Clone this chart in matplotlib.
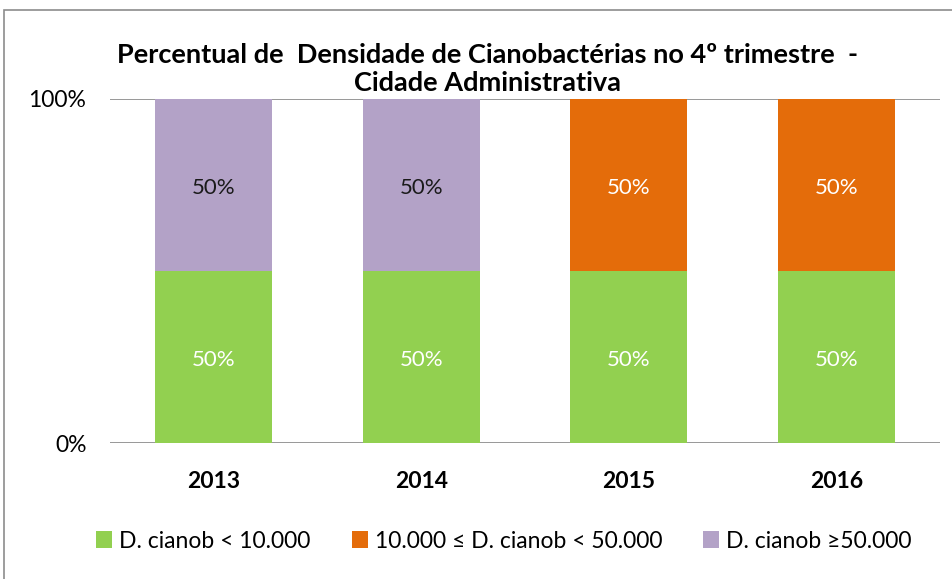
import matplotlib.pyplot as plt
from matplotlib.patches import Rectangle
from matplotlib.ticker import PercentFormatter

plt.rcParams['font.family'] = ['Lato', 'DejaVu Sans']

years = ['2013', '2014', '2015', '2016']
low = [0.5, 0.5, 0.5, 0.5]          # D. cianob < 10.000
mid = [0.0, 0.0, 0.5, 0.5]          # 10.000 <= D. cianob < 50.000
high = [0.5, 0.5, 0.0, 0.0]         # D. cianob >= 50.000
labels = ['D. cianob < 10.000', '10.000 \u2264 D. cianob < 50.000', 'D. cianob \u226550.000']
colors = ['#92D050', '#E46C0A', '#B3A2C7']
text_colors = ['white', 'white', '#1a1a1a']

fig = plt.figure(figsize=(9.53, 5.79), dpi=100)
fig.patches.append(Rectangle((4 / 953, -0.1), 1.1, 1 - 10 / 579 + 0.1,
                             transform=fig.transFigure, fill=False,
                             edgecolor='#8c8c8c', linewidth=1.2))
ax = fig.add_axes([110 / 953, 1 - 443 / 579, 830 / 953, 344 / 579])

x = range(len(years))
bottom = [0, 0, 0, 0]
for vals, col, lab, tc in zip([low, mid, high], colors, labels, text_colors):
    bars = ax.bar(x, vals, bottom=bottom, width=0.565, color=col, label=lab)
    for i, v in enumerate(vals):
        if v > 0:
            ax.text(i, bottom[i] + v / 2 - 0.01, f'{v:.0%}', ha='center', va='center',
                    color=tc, fontsize=16)
    bottom = [b + v for b, v in zip(bottom, vals)]

ax.set_xlim(-0.5, 3.5)
ax.set_ylim(0, 1)
ax.set_yticks([0, 1])
ax.yaxis.set_major_formatter(PercentFormatter(1.0, decimals=0))
ax.yaxis.grid(True, color='#868686', linewidth=1.2)
ax.set_axisbelow(True)
for s in ax.spines.values():
    s.set_visible(False)
ax.tick_params(axis='both', length=0, labelsize=16.5)
ax.tick_params(axis='y', pad=17)
ax.tick_params(axis='x', pad=20)
ax.set_xticks(list(x))
ax.set_xticklabels(years, fontweight='bold')

fig.text(488 / 953, 1 - 69 / 579,
         'Percentual de  Densidade de Cianobactérias no 4º trimestre  -\nCidade Administrativa',
         ha='center', va='center', fontsize=19.5, fontweight='bold', linespacing=1.2)

fig.legend(loc='center', bbox_to_anchor=(504 / 953, 1 - 541 / 579), ncol=3,
           frameon=False, fontsize=16.5, handlelength=0.7, handleheight=0.7,
           handletextpad=0.3, columnspacing=1.8)

fig.savefig('out.png', dpi=100)
